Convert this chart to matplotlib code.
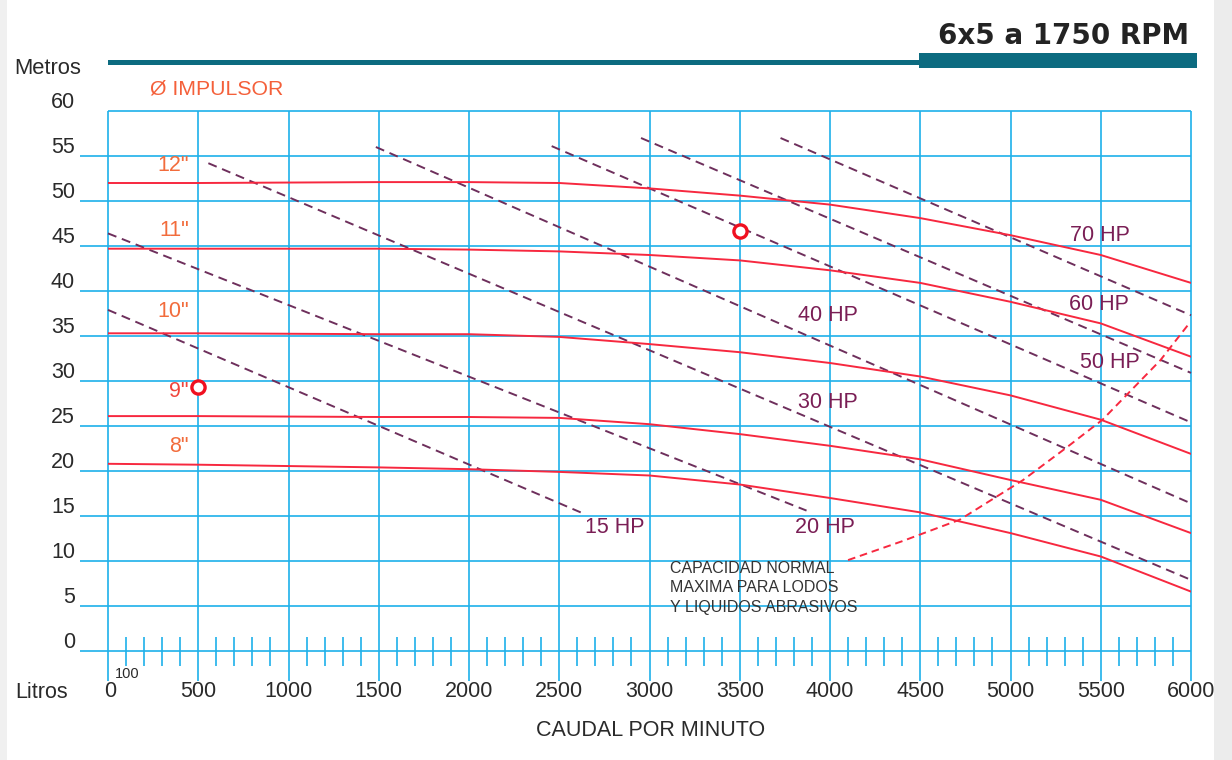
import numpy as np
import matplotlib
matplotlib.use("Agg")
import matplotlib.pyplot as plt
from matplotlib.patches import Rectangle
from matplotlib.transforms import blended_transform_factory

plt.rcParams['font.family'] = ['Liberation Sans', 'DejaVu Sans']
plt.rcParams['lines.scale_dashes'] = False

# ---------------- data ----------------
flow = [0, 500, 1000, 1500, 2000, 2500, 3000, 3500, 4000, 4500, 5000, 5500, 6000]
imp_labels = ['12"', '11"', '10"', '9"', '8"']
head_12 = [52.0, 52.0, 52.05, 52.1, 52.1, 52.0, 51.4, 50.6, 49.6, 48.1, 46.2, 44.0, 40.9]
head_11 = [44.7, 44.7, 44.7, 44.7, 44.6, 44.4, 44.0, 43.4, 42.3, 40.9, 38.8, 36.4, 32.7]
head_10 = [35.3, 35.3, 35.25, 35.2, 35.2, 34.9, 34.1, 33.2, 32.0, 30.5, 28.4, 25.7, 21.9]
head_9 = [26.1, 26.1, 26.05, 26.0, 26.0, 25.9, 25.2, 24.1, 22.8, 21.3, 19.0, 16.8, 13.1]
head_8 = [20.8, 20.7, 20.55, 20.4, 20.2, 19.9, 19.5, 18.5, 17.0, 15.4, 13.1, 10.5, 6.6]
imp_label_y = [53.9, 46.7, 37.7, 28.8, 22.7]

hp_labels = ['15 HP', '20 HP', '30 HP', '40 HP', '50 HP', '60 HP', '70 HP']
hp_x0 = [0, 0, 556, 1484, 2458, 2953, 3726]
hp_y0 = [37.9, 46.4, 54.2, 56.0, 56.1, 57.0, 57.0]
hp_x1 = [2619, 3870, 6000, 6000, 6000, 6000, 6000]
hp_y1 = [15.4, 15.6, 7.9, 16.4, 25.4, 30.9, 37.3]
hp_label_x = [2808, 3971, 3988, 3988, 5548, 5489, 5494]
hp_label_y = [13.7, 13.7, 27.6, 37.3, 32.1, 38.5, 46.2]

cap_flow = [4100, 4400, 4720, 5070, 5310, 5510, 5830, 5990]
cap_head = [10.1, 12.2, 14.6, 19.0, 22.6, 25.7, 32.3, 36.4]

point_flow = [500, 3500]
point_head = [29.3, 46.7]

x_major = list(range(0, 6001, 500))
x_minor = [v for v in range(100, 6000, 100) if v % 500 != 0]
y_major = list(range(0, 61, 5))

# ---------------- style ----------------
W, H = 1232, 760
GRID = '#1eb0ea'
RED = '#f7283f'
HPC = '#6e2f5c'
HPT = '#7a1e55'
ORANGE = '#f26c3c'
TEAL = '#0c6b80'

def fx(px):
    return px / W

def fy(py):
    return 1 - py / H

fig = plt.figure(figsize=(W / 100, H / 100), dpi=100, facecolor='white')

# soft panel shadow frame
fig.add_artist(Rectangle((fx(1214), 0), fx(W - 1214), 1, transform=fig.transFigure,
                         color='#ececec', lw=0, zorder=-5))
fig.add_artist(Rectangle((0, 0), fx(7), 1, transform=fig.transFigure,
                         color='#f0f0f0', lw=0, zorder=-5))

ax = fig.add_axes([fx(108), fy(651), fx(1191) - fx(108), fy(111) - fy(651)])
ax.set_xlim(0, 6000)
ax.set_ylim(0, 60)
ax.axis('off')

# grid
ax.vlines(x_major, -3.3, 60, colors=GRID, lw=1.2, clip_on=False, zorder=1)
ax.hlines(y_major[:-1], -155, 6000, colors=GRID, lw=1.2, clip_on=False, zorder=1)
ax.hlines([60], 0, 6000, colors=GRID, lw=1.2, clip_on=False, zorder=1)
ax.vlines(x_minor, -1.7, 1.6, colors=GRID, lw=1.2, clip_on=False, zorder=1)

# pump curves
for h in [head_12, head_11, head_10, head_9, head_8]:
    ax.plot(flow, h, color=RED, lw=1.4, zorder=3, solid_joinstyle='round')

lab_colors = [ORANGE, ORANGE, ORANGE, '#f0453c', ORANGE]
for lab, ly, c in zip(imp_labels, imp_label_y, lab_colors):
    ax.text(447, ly, lab, color=c, fontsize=15.5, ha='right', va='center', zorder=4)

# HP lines
for x0, y0, x1, y1, lab, lx, ly in zip(hp_x0, hp_y0, hp_x1, hp_y1, hp_labels, hp_label_x, hp_label_y):
    ax.plot([x0, x1], [y0, y1], color=HPC, lw=1.4, dashes=(6.5, 4.2), zorder=2, clip_on=False)
    ax.text(lx, ly, lab, color=HPT, fontsize=15.5, ha='center', va='center', zorder=4)

# capacity curve
ax.plot(cap_flow, cap_head, color=RED, lw=1.4, dashes=(5.5, 3.5), zorder=3)
ax.text(3114, 7.0, 'CAPACIDAD NORMAL\nMAXIMA PARA LODOS\nY LIQUIDOS ABRASIVOS',
        color='#333333', fontsize=11.5, ha='left', va='center', linespacing=1.38, zorder=4)

# marker points
ax.plot(point_flow, point_head, 'o', ms=9.5, mfc='white', mec='#f01020', mew=2.4, zorder=5)

# tick labels
ytrans = blended_transform_factory(fig.transFigure, ax.transData)
for v in y_major:
    ax.text(fx(75), v + 0.95, str(v), transform=ytrans, fontsize=15.5,
            ha='right', va='center', color='#2a2a2a')
for v in x_major:
    ax.text(v + (12 if v == 0 else 0), -4.55, str(v), fontsize=15.5, ha='center', va='center',
            color='#2a2a2a', clip_on=False)
ax.text(106, -2.6, '100', fontsize=10.5, ha='center', va='center', color='#2a2a2a')

fig.text(fx(48), fy(68), 'Metros', fontsize=15.8, ha='center', va='center', color='#2a2a2a')
fig.text(fx(42), fy(692), 'Litros', fontsize=15.5, ha='center', va='center', color='#2a2a2a')
fig.text(fx(651), fy(731), 'CAUDAL POR MINUTO', fontsize=15.5, ha='center', va='center',
         color='#2a2a2a')
fig.text(fx(150), fy(89), 'Ø IMPULSOR', fontsize=15.3, ha='left', va='center', color='#f4603a')

# header bar + title
fig.add_artist(Rectangle((fx(108), fy(64.5)), fx(920) - fx(108), fy(59.5) - fy(64.5),
                         transform=fig.transFigure, color=TEAL, lw=0))
fig.add_artist(Rectangle((fx(919), fy(68)), fx(1197) - fx(919), fy(53) - fy(68),
                         transform=fig.transFigure, color=TEAL, lw=0))
fig.text(fx(1189), fy(35.5), '6x5 a 1750 RPM', fontsize=20, ha='right', va='center',
         color='#232323', family='DejaVu Sans', fontweight='bold')

fig.savefig('out.png', dpi=100, facecolor=fig.get_facecolor())
